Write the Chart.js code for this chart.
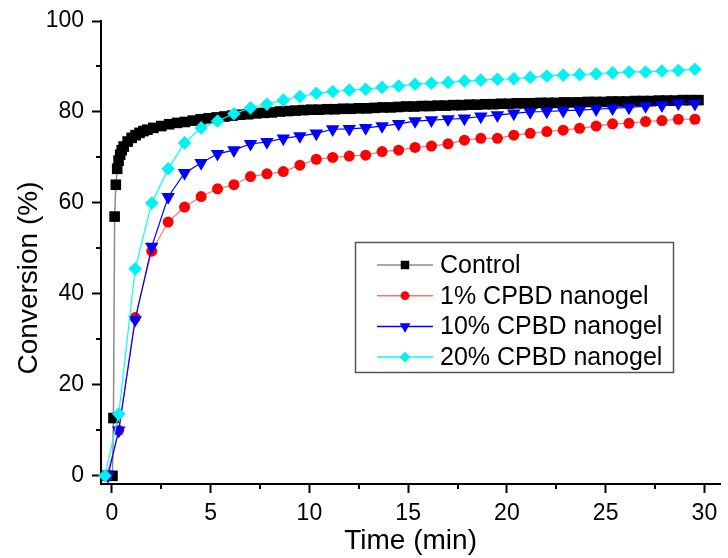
<!DOCTYPE html>
<html>
<head>
<meta charset="utf-8">
<script src="https://cdn.jsdelivr.net/npm/chart.js@4.4.1/dist/chart.umd.min.js"></script>
<style>
  html, body { margin: 0; padding: 0; background: #fff; }
  #wrap { position: relative; width: 728px; height: 558px; }
</style>
</head>
<body>
<div id="wrap"><canvas id="conversion-chart"></canvas></div>
<script>
// data
const seriesLabels = ['Control', '1% CPBD nanogel', '10% CPBD nanogel', '20% CPBD nanogel'];

const xTicks = [0, 5, 10, 15, 20, 25, 30];
const xMinorTicks = [2.5, 7.5, 12.5, 17.5, 22.5, 27.5];
const yTicks = [0, 20, 40, 60, 80, 100];
const yMinorTicks = [10, 30, 50, 70, 90];

const xTitle = 'Time (min)';
const yTitle = 'Conversion (%)';

const controlTime = [-0.3, 0.03, 0.08, 0.14, 0.2, 0.27, 0.34, 0.42, 0.5, 0.6, 0.8, 1.0, 1.2, 1.4, 1.6, 1.8,
  2.1, 2.5, 2.9, 3.3, 3.7, 4.1, 4.5, 4.9, 5.3, 5.7, 6.1, 6.5, 6.9, 7.3, 7.7, 8.1, 8.5, 8.9, 9.3, 9.7,
  10.1, 10.5, 10.9, 11.3, 11.7, 12.1, 12.5, 12.9, 13.3, 13.7, 14.1, 14.5, 14.9, 15.3, 15.7, 16.1, 16.5, 16.9,
  17.3, 17.7, 18.1, 18.5, 18.9, 19.3, 19.7, 20.1, 20.5, 20.9, 21.3, 21.7, 22.1, 22.5, 22.9, 23.3, 23.7,
  24.1, 24.5, 24.9, 25.3, 25.7, 26.1, 26.5, 26.9, 27.3, 27.7, 28.1, 28.5, 28.9, 29.3, 29.7];
const controlConv = [0, 0, 12.7, 57, 64, 67.5, 69.3, 70.6, 71.6, 72.4, 73.5, 74.3, 74.9, 75.4, 75.8, 76.1,
  76.5, 76.9, 77.3, 77.6, 77.8, 78.1, 78.4, 78.6, 78.8, 79.0, 79.2, 79.4, 79.5, 79.7, 79.8, 79.9, 80.1, 80.2, 80.3, 80.4,
  80.5, 80.5, 80.6, 80.6, 80.7, 80.7, 80.8, 80.8, 80.9, 81.0, 81.0, 81.1, 81.2, 81.2, 81.3, 81.3, 81.4, 81.4,
  81.5, 81.5, 81.6, 81.6, 81.7, 81.7, 81.8, 81.8, 81.9, 81.9, 81.9, 82.0, 82.0, 82.0, 82.1, 82.1, 82.1,
  82.2, 82.2, 82.2, 82.3, 82.3, 82.3, 82.4, 82.4, 82.4, 82.5, 82.5, 82.5, 82.6, 82.6, 82.6];

// the three nanogel runs share the same sampling times
const sampleTime = [0.35, 1.18, 2.02, 2.85, 3.68, 4.52, 5.35, 6.18, 7.02, 7.85, 8.68, 9.52, 10.35, 11.18,
  12.02, 12.85, 13.68, 14.52, 15.35, 16.18, 17.02, 17.85, 18.68, 19.52, 20.35, 21.18, 22.02, 22.85,
  23.68, 24.52, 25.35, 26.18, 27.02, 27.85, 28.68, 29.52];
// each run also has one zero reading just before t = 0
const startTime = [-0.25, -0.2, -0.35];

const gel1Conv = [10, 34.8, 49.4, 55.8, 59.1, 61.4, 63.1, 64, 65.8, 66.4, 66.9, 68.3,
  69.6, 70.0, 70.3, 70.5, 71.3, 71.6, 72.2, 72.5, 73.0, 73.8, 74.2, 74.2, 74.9, 75.3, 75.7, 76.0,
  76.4, 76.9, 77.4, 77.5, 77.9, 78.1, 78.4, 78.4];
const gel10Conv = [10, 34.3, 50.4, 61.3, 66.6, 68.8, 70.8, 71.6, 73, 73.4, 74.2,
  74.7, 75.3, 76.2, 76.3, 76.5, 76.9, 77.4, 78.0, 78.2, 78.4, 78.6, 79.0, 79.3, 79.7, 80.0,
  80.1, 80.3, 80.4, 80.6, 80.8, 81.0, 81.3, 81.5, 81.9, 81.8];
const gel20Conv = [13.6, 45.5, 60, 67.5, 73.2, 76.5, 78, 79.6, 80.9, 81.7, 82.6,
  83.4, 84.1, 84.5, 84.8, 85.0, 85.4, 85.7, 86.1, 86.3, 86.5, 86.8, 87.0, 87.2, 87.3, 87.6,
  87.9, 88.1, 88.2, 88.4, 88.6, 88.8, 88.8, 89.0, 89.1, 89.4];

function toPoints(times, values) {
  return times.map((t, i) => ({ x: t, y: values[i] }));
}
function gelPoints(start, values) {
  return [{ x: start, y: 0 }].concat(toPoints(sampleTime, values));
}

Chart.defaults.font.family = 'Arial, "Liberation Sans", sans-serif';
Chart.defaults.color = '#000';

const datasets = [
  {
    label: seriesLabels[0],
    data: toPoints(controlTime, controlConv),
    borderColor: '#8c8c8c', borderWidth: 1.5,
    pointStyle: 'rect', pointRadius: 7.5, pointRotation: 0,
    pointBackgroundColor: '#000', pointBorderColor: '#000', pointBorderWidth: 0,
    order: 3
  },
  {
    label: seriesLabels[1],
    data: gelPoints(startTime[0], gel1Conv),
    borderColor: '#ff7070', borderWidth: 1.2,
    pointStyle: 'circle', pointRadius: 5.5, pointRotation: 0,
    pointBackgroundColor: '#ff0000', pointBorderColor: '#ff0000', pointBorderWidth: 0,
    order: 2
  },
  {
    label: seriesLabels[2],
    data: gelPoints(startTime[1], gel10Conv),
    borderColor: '#0000ff', borderWidth: 1.2,
    pointStyle: 'triangle', pointRadius: 7.8, pointRotation: 180,
    pointBackgroundColor: '#0000ff', pointBorderColor: '#0000ff', pointBorderWidth: 0,
    order: 1
  },
  {
    label: seriesLabels[3],
    data: gelPoints(startTime[2], gel20Conv),
    borderColor: '#00ffff', borderWidth: 1.2,
    pointStyle: 'rectRot', pointRadius: 6.8, pointRotation: 0,
    pointBackgroundColor: '#00f2f2', pointBorderColor: '#00f2f2', pointBorderWidth: 0,
    order: 0
  }
];

// short minor ticks between the labelled ones
const minorTicks = {
  id: 'minorTicks',
  afterDraw(chart) {
    const { ctx, chartArea, scales } = chart;
    ctx.save();
    ctx.strokeStyle = '#000';
    ctx.lineWidth = 2;
    ctx.beginPath();
    xMinorTicks.forEach(v => {
      const px = Math.round(scales.x.getPixelForValue(v));
      ctx.moveTo(px, chartArea.bottom);
      ctx.lineTo(px, chartArea.bottom + 5);
    });
    yMinorTicks.forEach(v => {
      const py = Math.round(scales.y.getPixelForValue(v));
      ctx.moveTo(chartArea.left, py);
      ctx.lineTo(chartArea.left - 5, py);
    });
    ctx.stroke();
    ctx.restore();
  }
};

// y title sits a bit below the middle of the axis in the figure
const yAxisTitle = {
  id: 'yAxisTitle',
  afterDraw(chart) {
    const ctx = chart.ctx;
    ctx.save();
    ctx.translate(29, 278);
    ctx.rotate(-Math.PI / 2);
    ctx.font = '28px Arial, "Liberation Sans", sans-serif';
    ctx.fillStyle = '#000';
    ctx.textAlign = 'center';
    ctx.textBaseline = 'middle';
    ctx.fillText(yTitle, 0, 0);
    ctx.restore();
  }
};

// boxed legend inside the plot
const boxLegend = {
  id: 'boxLegend',
  afterDraw(chart) {
    const ctx = chart.ctx;
    const left = 355, top = 242, w = 318, h = 130;
    ctx.save();
    ctx.strokeStyle = '#555';
    ctx.lineWidth = 1.5;
    ctx.strokeRect(left + 0.5, top + 0.5, w, h);
    ctx.font = '25px Arial, "Liberation Sans", sans-serif';
    ctx.textBaseline = 'middle';
    ctx.textAlign = 'left';
    chart.data.datasets.forEach((ds, i) => {
      const y = top + 23 + i * 30.7;
      ctx.strokeStyle = ds.borderColor;
      ctx.lineWidth = 1.5;
      ctx.beginPath();
      ctx.moveTo(377, y);
      ctx.lineTo(433, y);
      ctx.stroke();
      ctx.fillStyle = ds.pointBackgroundColor;
      ctx.strokeStyle = ds.pointBorderColor;
      Chart.helpers.drawPoint(ctx, {
        pointStyle: ds.pointStyle,
        rotation: ds.pointRotation,
        radius: ds.pointRadius * 0.8,
        borderWidth: 0
      }, 405, y);
      ctx.fillStyle = '#000';
      ctx.fillText(ds.label, 440, y + 1);
    });
    ctx.restore();
  }
};

new Chart(document.getElementById('conversion-chart'), {
  type: 'line',
  data: { datasets: datasets },
  options: {
    responsive: true,
    maintainAspectRatio: false,
    animation: false,
    devicePixelRatio: 1,
    layout: { padding: { left: 0, right: 0, top: 21, bottom: 0 } },
    elements: { line: { tension: 0 } },
    datasets: { line: { clip: false } },
    plugins: { legend: { display: false }, tooltip: { enabled: false } },
    scales: {
      x: {
        type: 'linear',
        min: -0.55,
        max: 30.8,
        afterBuildTicks: scale => { scale.ticks = xTicks.map(v => ({ value: v })); },
        afterFit: scale => { scale.height = 74; scale.paddingLeft = 0; scale.paddingRight = 0; },
        ticks: { font: { size: 23 }, padding: 7, maxRotation: 0, autoSkip: false },
        grid: { display: true, drawOnChartArea: false, drawTicks: true, tickLength: 9, tickWidth: 2, tickColor: '#000' },
        border: { display: true, color: '#000', width: 2 },
        title: { display: true, text: xTitle, font: { size: 28 }, padding: { top: 0, bottom: 0 } }
      },
      y: {
        type: 'linear',
        min: -1.8,
        max: 100,
        afterBuildTicks: scale => { scale.ticks = yTicks.map(v => ({ value: v })); },
        afterFit: scale => { scale.width = 101; scale.paddingTop = 0; scale.paddingBottom = 0; },
        ticks: { font: { size: 23 }, padding: 8, autoSkip: false },
        grid: { display: true, drawOnChartArea: false, drawTicks: true, tickLength: 9, tickWidth: 2, tickColor: '#000' },
        border: { display: true, color: '#000', width: 2 }
      }
    }
  },
  plugins: [minorTicks, yAxisTitle, boxLegend]
});
</script>
</body>
</html>
